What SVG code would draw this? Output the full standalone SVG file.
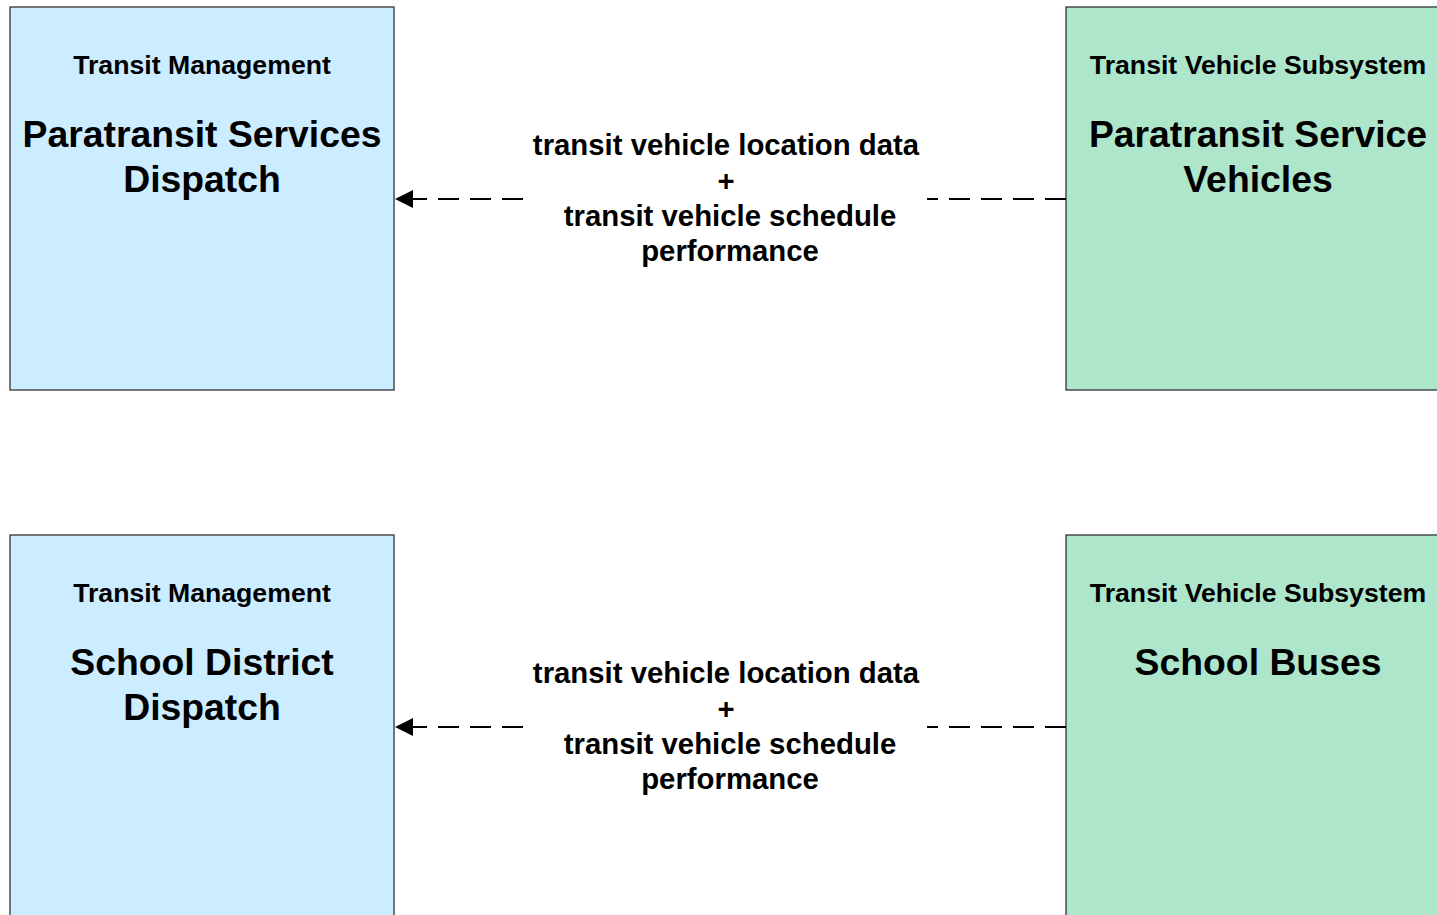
<svg xmlns="http://www.w3.org/2000/svg" width="1437" height="915" viewBox="0 0 1437 915">
<style>
.tm{fill:#CCECFF;stroke:#333;stroke-width:1.3}
.tv{fill:#AEE6CC;stroke:#333;stroke-width:1.3}
text{font-family:"Liberation Sans",Arial,sans-serif;font-weight:bold;fill:#000;text-anchor:middle}
.h{font-size:26.67px}
.t{font-size:37.33px}
.l{font-size:29.33px}
.flow{fill:none;stroke:#000;stroke-width:2;stroke-dasharray:21 11}
</style>
<defs>
<marker id="ah" markerUnits="userSpaceOnUse" markerWidth="20" markerHeight="20" refX="18" refY="10" orient="auto" viewBox="0 0 20 20">
<path d="M0,1 L18,10 L0,19 Z" fill="#000"/>
</marker>
</defs>
<rect width="1437" height="915" fill="#fff"/>
<g id="node-paratransit-dispatch">
<rect class="tm" x="10" y="7" width="384" height="383"/>
<text class="h" x="202" y="74">Transit Management</text>
<text class="t" x="202" y="147">Paratransit Services</text>
<text class="t" x="202" y="192">Dispatch</text>
</g>
<g id="node-paratransit-vehicles">
<rect class="tv" x="1066" y="7" width="384" height="383"/>
<text class="h" x="1258" y="74">Transit Vehicle Subsystem</text>
<text class="t" x="1258" y="147">Paratransit Service</text>
<text class="t" x="1258" y="192">Vehicles</text>
</g>
<g id="node-school-dispatch">
<rect class="tm" x="10" y="535" width="384" height="390"/>
<text class="h" x="202" y="602">Transit Management</text>
<text class="t" x="202" y="675">School District</text>
<text class="t" x="202" y="720">Dispatch</text>
</g>
<g id="node-school-buses">
<rect class="tv" x="1066" y="535" width="384" height="390"/>
<text class="h" x="1258" y="602">Transit Vehicle Subsystem</text>
<text class="t" x="1258" y="675">School Buses</text>
</g>
<g id="connectors">
<path class="flow" d="M523,199 L395,199" marker-end="url(#ah)"/>
<path class="flow" d="M1066,199 L927,199" stroke-dasharray="20 11"/>
<g class="lbl">
<text class="l" x="726" y="155">transit vehicle location data</text>
<text class="l" x="726" y="191">+</text>
<text class="l" x="730" y="226">transit vehicle schedule</text>
<text class="l" x="730" y="261">performance</text>
</g>
<path class="flow" d="M523,727 L395,727" marker-end="url(#ah)"/>
<path class="flow" d="M1066,727 L927,727" stroke-dasharray="20 11"/>
<g class="lbl">
<text class="l" x="726" y="683">transit vehicle location data</text>
<text class="l" x="726" y="719">+</text>
<text class="l" x="730" y="754">transit vehicle schedule</text>
<text class="l" x="730" y="789">performance</text>
</g>
</g>
</svg>
